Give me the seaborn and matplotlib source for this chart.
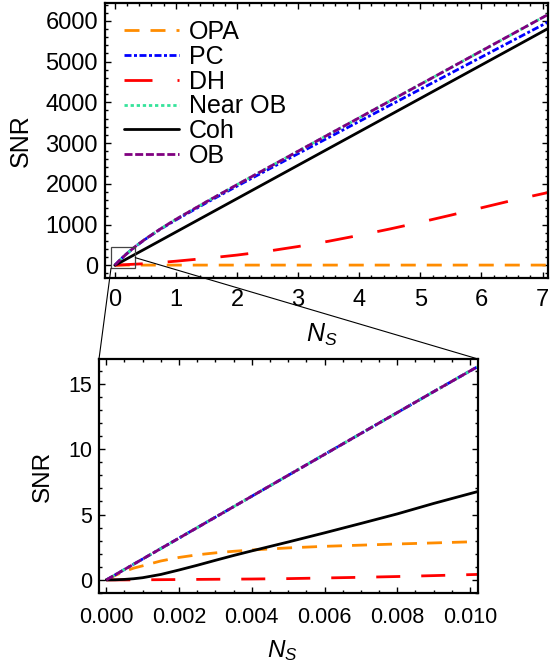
import numpy as np
import pandas as pd
import matplotlib
matplotlib.use("Agg")
import matplotlib.pyplot as plt
from matplotlib.patches import Rectangle, ConnectionPatch
from matplotlib.ticker import MultipleLocator, FormatStrFormatter
import seaborn as sns

# ---- full range of signal photon number ----
ns_full = [0, 0.01, 0.1, 0.2, 0.35, 0.5, 0.75, 1.0, 1.5, 2.0, 2.5, 3.0, 3.5,
           4.0, 4.5, 5.0, 5.5, 6.0, 6.5, 7.09]
opa_full = [0, 2.9, 3.3, 3.5, 3.6, 3.7, 3.8, 3.9, 4.0, 4.1, 4.1, 4.2, 4.2,
            4.3, 4.3, 4.3, 4.4, 4.4, 4.4, 4.5]
pc_full = [0, 16, 152, 289, 474, 640, 888, 1112, 1534, 1942, 2342, 2740, 3135,
           3530, 3925, 4320, 4715, 5110, 5505, 5969]
dh_full = [0, 0.4, 8, 17, 28, 40, 68, 100, 170, 250, 345, 460, 590,
           735, 890, 1055, 1230, 1410, 1590, 1785]
nearob_full = [0, 16, 152, 290, 476, 644, 895, 1127, 1559, 1977, 2389, 2800, 3210,
               3620, 4030, 4440, 4850, 5260, 5670, 6154]
coh_full = [0, 6, 78, 160, 283, 405, 610, 815, 1225, 1635, 2045, 2455, 2865,
            3275, 3685, 4095, 4505, 4915, 5325, 5810]
ob_full = [0, 16, 152, 290, 476, 644, 895, 1127, 1559, 1977, 2389, 2800, 3210,
           3620, 4030, 4440, 4850, 5260, 5670, 6154]

# ---- low photon number region ----
ns_low = [0, 0.00025, 0.0005, 0.00075, 0.001, 0.0015, 0.002, 0.0025, 0.003,
          0.0035, 0.004, 0.005, 0.006, 0.007, 0.008, 0.009, 0.0102]
opa_low = [0, 0.35, 0.65, 0.9, 1.08, 1.45, 1.72, 1.92, 2.07, 2.19, 2.29,
           2.45, 2.57, 2.66, 2.75, 2.83, 2.93]
pc_low = [0, 0.4, 0.8, 1.2, 1.6, 2.4, 3.2, 4.0, 4.8, 5.6, 6.4, 8.0, 9.6,
          11.2, 12.8, 14.4, 16.3]
dh_low = [0, 0, 0, 0.005, 0.01, 0.02, 0.03, 0.04, 0.05, 0.06, 0.07, 0.1,
          0.15, 0.2, 0.26, 0.33, 0.42]
nearob_low = [0, 0.4, 0.8, 1.2, 1.6, 2.4, 3.2, 4.0, 4.8, 5.6, 6.4, 8.0, 9.6,
              11.2, 12.8, 14.4, 16.3]
coh_low = [0, 0.01, 0.04, 0.09, 0.17, 0.42, 0.76, 1.12, 1.5, 1.87, 2.22,
           2.9, 3.6, 4.32, 5.05, 5.85, 6.75]
ob_low = [0, 0.4, 0.8, 1.2, 1.6, 2.4, 3.2, 4.0, 4.8, 5.6, 6.4, 8.0, 9.6,
          11.2, 12.8, 14.4, 16.3]

labels = ["OPA", "PC", "DH", "Near OB", "Coh", "OB"]
colors = ["#FF8C00", "#0000FF", "#FF0000", "#35E39B", "#000000", "#800080"]

PX = 0.72  # points per pixel at dpi 100
styles_full = [
    (0, (15 * PX, 11 * PX)),
    (0, (7 * PX, 2.5 * PX, 3 * PX, 2.5 * PX)),
    (0, (28 * PX, 25 * PX)),
    (0, (3.3 * PX, 2.8 * PX)),
    "-",
    (0, (8 * PX, 2.7 * PX)),
]
styles_low = [
    (0, (15 * PX, 10 * PX)),
    (0, (7 * PX, 2.5 * PX, 3 * PX, 2.5 * PX)),
    (0, (24 * PX, 21 * PX)),
    (0, (3.3 * PX, 2.8 * PX)),
    "-",
    (0, (8 * PX, 2.7 * PX)),
]

sns.set_style("ticks")
plt.rcParams["font.family"] = ["Liberation Sans", "DejaVu Sans"]
plt.rcParams["mathtext.fontset"] = "custom"
plt.rcParams["mathtext.rm"] = "Liberation Sans"
plt.rcParams["mathtext.it"] = "Liberation Sans:italic"
plt.rcParams["lines.scale_dashes"] = False
for key in ("text.color", "axes.labelcolor", "xtick.color", "ytick.color",
            "axes.edgecolor"):
    plt.rcParams[key] = "black"

W, H = 552, 670
fig = plt.figure(figsize=(W / 100, H / 100), dpi=100)


def px_axes(left, top, right, bottom):
    return fig.add_axes([left / W, 1 - bottom / H, (right - left) / W, (bottom - top) / H])


ax_top = px_axes(105, 3.3, 548, 278.3)
ax_bot = px_axes(99, 359, 478, 593)

full = {"OPA": opa_full, "PC": pc_full, "DH": dh_full, "Near OB": nearob_full,
        "Coh": coh_full, "OB": ob_full}
low = {"OPA": opa_low, "PC": pc_low, "DH": dh_low, "Near OB": nearob_low,
       "Coh": coh_low, "OB": ob_low}

for name, col, ls in zip(labels, colors, styles_full):
    df = pd.DataFrame({"ns": ns_full, "snr": full[name]})
    sns.lineplot(data=df, x="ns", y="snr", ax=ax_top, color=col, linewidth=2.0,
                 linestyle=ls, label=name, dash_capstyle="butt")

for name, col, ls in zip(labels, colors, styles_low):
    df = pd.DataFrame({"ns": ns_low, "snr": low[name]})
    sns.lineplot(data=df, x="ns", y="snr", ax=ax_bot, color=col, linewidth=2.0,
                 linestyle=ls, legend=False, dash_capstyle="butt")

# axis ranges
ax_top.set_xlim(-0.16, 7.09)
ax_top.set_ylim(-320, 6430)
ax_bot.set_xlim(-0.0002, 0.01022)
ax_bot.set_ylim(-1.0, 16.9)

ax_top.xaxis.set_major_locator(MultipleLocator(1))
ax_top.xaxis.set_minor_locator(MultipleLocator(0.2))
ax_top.yaxis.set_major_locator(MultipleLocator(1000))
ax_top.yaxis.set_minor_locator(MultipleLocator(200))
ax_bot.xaxis.set_major_locator(MultipleLocator(0.002))
ax_bot.xaxis.set_minor_locator(MultipleLocator(0.0005))
ax_bot.xaxis.set_major_formatter(FormatStrFormatter("%.3f"))
ax_bot.yaxis.set_major_locator(MultipleLocator(5))
ax_bot.yaxis.set_minor_locator(MultipleLocator(1))

for ax, fs in ((ax_top, 17), (ax_bot, 15.5)):
    for s in ax.spines.values():
        s.set_linewidth(1.6)
        s.set_color("black")
    ax.tick_params(which="both", direction="in", top=True, right=True,
                   width=1.0, colors="black", labelsize=fs)
    ax.tick_params(which="major", length=4, pad=5)
    ax.tick_params(which="minor", length=2)

ax_top.tick_params(axis="x", which="major", pad=8)
ax_bot.tick_params(axis="x", which="major", pad=10)

ax_top.set_xlabel(r"$N_S$", fontsize=18)
ax_top.set_ylabel("SNR", fontsize=18)
ax_bot.set_xlabel(r"$N_S$", fontsize=17.5)
ax_bot.set_ylabel("SNR", fontsize=17.5)
for ax, xl, yl in ((ax_top, (0.49, -0.206), (-0.19, 0.5)),
                   (ax_bot, (0.485, -0.244), (-0.148, 0.496))):
    ax.xaxis.set_label_coords(*xl)
    ax.yaxis.set_label_coords(*yl)
    ax.xaxis.label.set_va("center")
    ax.yaxis.label.set_va("center")

leg = ax_top.legend(loc="upper left", bbox_to_anchor=(0.02, 0.975), frameon=False,
                    fontsize=18, handlelength=2.2, handletextpad=0.4,
                    labelspacing=0.03, borderaxespad=0.0)

# zoom box and connector lines
ax_top.add_patch(Rectangle((-0.062, -74), 0.398, 530, fill=False,
                           edgecolor="#444444", linewidth=0.9, zorder=5))
con1 = ConnectionPatch(xyA=(-0.062, -74), coordsA="data", axesA=ax_top,
                       xyB=(0, 1), coordsB="axes fraction", axesB=ax_bot,
                       color="black", linewidth=0.8)
con2 = ConnectionPatch(xyA=(0.336, 186), coordsA="data", axesA=ax_top,
                       xyB=(1, 1), coordsB="axes fraction", axesB=ax_bot,
                       color="black", linewidth=0.8)
fig.add_artist(con1)
fig.add_artist(con2)

fig.savefig("out.png", dpi=100, facecolor="white")
